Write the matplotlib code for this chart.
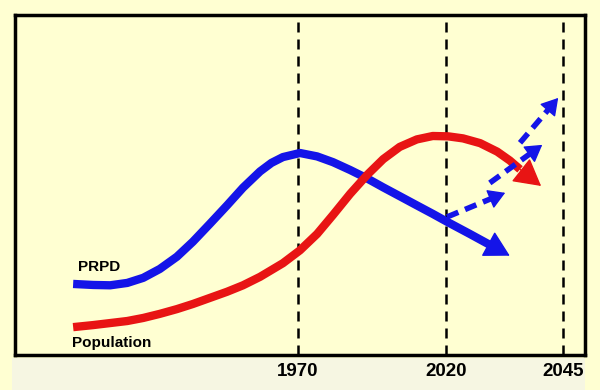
import matplotlib
matplotlib.use('Agg')
import matplotlib.pyplot as plt
from matplotlib.patches import Rectangle

plt.rcParams['font.family'] = ['Liberation Sans', 'DejaVu Sans']

# horizontal positions are on a 0-100 scale across the box (years are not evenly spaced)
tick_pos = [49.6, 75.6, 96.1]
tick_labels = ['1970', '2020', '2045']

prpd_x = [10.2, 13.7, 16.7, 19.7, 22.5, 25.4, 28.4, 31.2, 34.2, 37.2, 40.0, 43.0, 45.0,
          47.0, 50.0, 53.0, 55.8, 58.8, 61.8, 64.6, 67.5, 70.5, 73.3, 76.0, 79.8, 83.3]
prpd_y = [20.9, 20.6, 20.5, 21.2, 22.7, 25.3, 28.9, 33.3, 38.6, 44.0, 49.2, 54.0, 56.5,
          58.2, 59.4, 58.4, 56.7, 54.4, 51.9, 49.3, 46.7, 44.0, 41.5, 39.0, 35.6, 32.4]
prpd_tip = (86.8, 29.2)

pop_x = [10.2, 13.7, 16.7, 19.7, 22.5, 25.4, 28.4, 31.2, 34.2, 37.2, 40.0, 43.0,
         47.0, 50.0, 53.0, 55.8, 58.8, 61.8, 64.6, 67.5, 70.5, 73.3, 76.0, 78.6,
         81.6, 84.6, 86.8, 88.6]
pop_y = [8.2, 8.8, 9.4, 10.0, 10.9, 12.1, 13.5, 15.0, 16.8, 18.6, 20.5, 23.0,
         27.0, 30.8, 35.6, 41.2, 47.4, 53.0, 57.6, 61.2, 63.4, 64.4, 64.3, 63.7,
         62.3, 59.8, 57.2, 54.6]
pop_tip = (92.3, 49.7)

# scenario arrows after 2020 (start -> tip)
scen_start = [(75.8, 40.6), (83.3, 50.6), (88.6, 62.4)]
scen_tip = [(86.0, 47.7), (92.5, 61.8), (95.3, 75.6)]

bg = '#FFFFD2'
blue = '#1414E8'
red = '#E81414'

fig = plt.figure(figsize=(6, 3.9), dpi=100, facecolor=bg)
fig.patches.append(Rectangle((0.02, 0), 0.955, 0.082, transform=fig.transFigure,
                             facecolor='#F6F6E2', edgecolor='none', zorder=-1))
ax = fig.add_axes([0.025, 0.0897, 0.95, 0.872])
ax.set_facecolor(bg)
ax.set_xlim(0, 100)
ax.set_ylim(0, 100)

for x in tick_pos:
    ax.axvline(x, color='black', lw=1.8, linestyle=(0, (4, 2.8)), zorder=1)


def head(ax, base, tip, color, ms, hl, hw, z):
    ax.annotate('', xy=tip, xytext=base,
                arrowprops=dict(arrowstyle='-|>,head_length=%s,head_width=%s' % (hl, hw),
                                mutation_scale=ms, color=color, lw=1,
                                shrinkA=0, shrinkB=0), zorder=z)


ax.plot(prpd_x, prpd_y, color=blue, lw=6, solid_capstyle='butt',
        solid_joinstyle='round', zorder=3)
head(ax, (prpd_x[-1], prpd_y[-1]), prpd_tip, blue, 18, 0.9, 0.5, 3)

ax.plot(pop_x, pop_y, color=red, lw=6, solid_capstyle='butt',
        solid_joinstyle='round', zorder=3)
head(ax, (pop_x[-1], pop_y[-1]), pop_tip, red, 19, 0.9, 0.5, 3)

for (x0, y0), (x1, y1) in zip(scen_start, scen_tip):
    # dashed shaft stops at the head, head drawn solid
    f = 0.76
    xm, ym = x0 + (x1 - x0) * f, y0 + (y1 - y0) * f
    ax.plot([x0, xm], [y0, ym], color=blue, lw=4, linestyle=(0, (2.2, 1.3)),
            dash_capstyle='butt', zorder=4)
    head(ax, (xm, ym), (x1, y1), blue, 14, 0.75, 0.45, 4)

ax.text(11.1, 25.9, 'PRPD', fontsize=11, fontweight='bold', va='center', ha='left')
ax.text(10.0, 3.5, 'Population', fontsize=11, fontweight='bold', va='center', ha='left')

ax.set_xticks(tick_pos)
ax.set_xticklabels(tick_labels, fontsize=13.5, fontweight='bold')
ax.tick_params(axis='x', length=0, pad=6)
ax.set_yticks([])
for s in ax.spines.values():
    s.set_linewidth(2.5)
    s.set_color('black')

fig.savefig('out.png', dpi=100, facecolor=bg)
